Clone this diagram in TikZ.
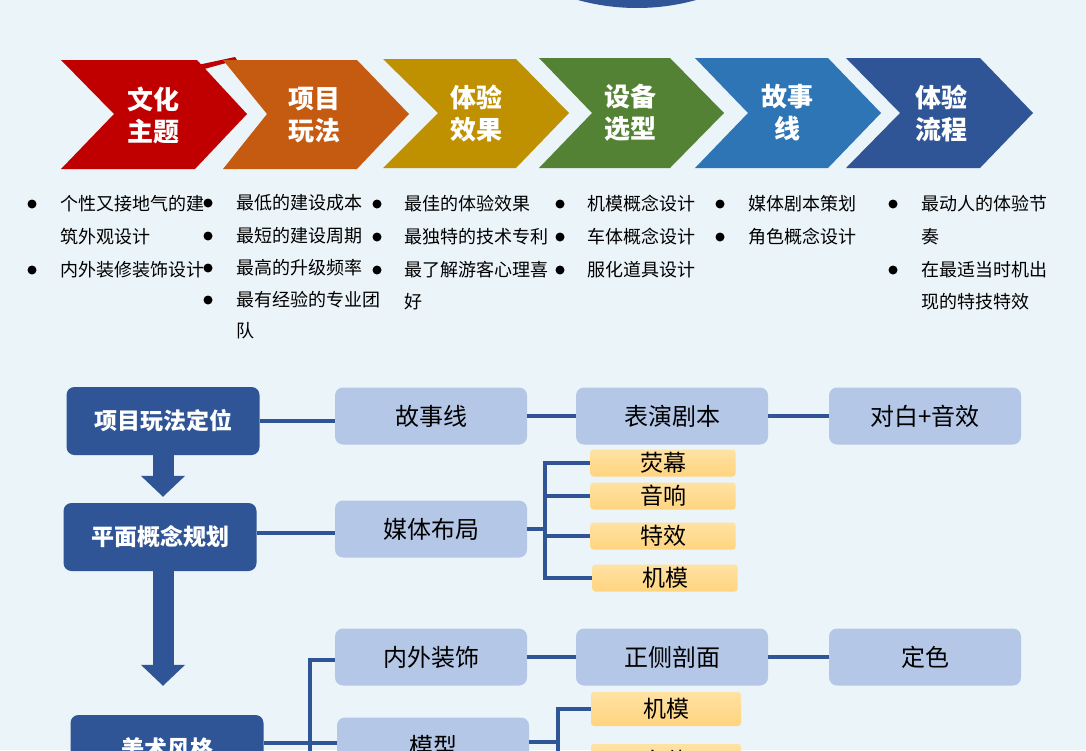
\documentclass[tikz,border=0pt]{standalone}
\usepackage{fontspec}
\newfontfamily\cjk{Noto Sans CJK SC}
\usetikzlibrary{positioning, arrows.meta}
\definecolor{bgcol}{RGB}{235,244,248}
\definecolor{mainblue}{RGB}{47,85,151}
\definecolor{subblue}{RGB}{180,199,231}
\definecolor{leaftop}{RGB}{255,226,163}
\definecolor{leafbot}{RGB}{255,212,126}
\definecolor{chred}{RGB}{192,0,0}
\definecolor{chorange}{RGB}{197,90,17}
\definecolor{chgold}{RGB}{191,144,0}
\definecolor{chgreen}{RGB}{84,130,53}
\definecolor{chblue}{RGB}{46,117,182}
\begin{document}
\begin{tikzpicture}[x=1pt, y=-1pt,
      chevtext/.style={text=white, align=center, inner sep=0pt, font=\cjk\bfseries\fontsize{26}{32}\selectfont},
      item/.style={anchor=west, inner sep=0pt, font=\cjk\fontsize{18}{18}\selectfont},
      mainbox/.style={fill=mainblue, rounded corners=8pt, minimum width=193pt, minimum height=68pt, inner sep=0pt, text=white, font=\cjk\bfseries\fontsize{23}{23}\selectfont},
      subbox/.style={fill=subblue, rounded corners=8pt, minimum width=192pt, minimum height=57pt, inner sep=0pt, font=\cjk\fontsize{24}{24}\selectfont},
      leafbox/.style={top color=leaftop, bottom color=leafbot, rounded corners=3pt, minimum width=145pt, minimum height=27pt, inner sep=0pt, font=\cjk\fontsize{23}{23}\selectfont},
      link/.style={draw=mainblue, line width=4pt},
      blockarrow/.style={draw=mainblue, line width=21pt, -{Triangle[width=43pt, length=21pt]}}]
      \useasboundingbox (0,0) rectangle (1086,750);
      \clip (0,0) rectangle (1086,750);
      \fill[bgcol] (0,0) rectangle (1086,750);
      \fill[mainblue] (637,-213) circle (221pt);

      % chevrons
      \fill[chred] (61,60) -- (197,60) -- (247,114) -- (195,169) -- (61,169) -- (114,114) -- cycle;
      \fill[chred] (193,66) -- (235,57) -- (237,60) -- (197,71) -- cycle;
      \fill[chorange] (223,60) -- (357,60) -- (409,114) -- (357,169) -- (223,169) -- (267,114) -- cycle;
      \fill[chgold] (383,59) -- (516,59) -- (569,113) -- (516,168) -- (383,168) -- (438,113) -- cycle;
      \fill[chgreen] (539,58) -- (670,58) -- (724,113) -- (670,168) -- (539,168) -- (592,113) -- cycle;
      \fill[chblue] (695,58) -- (828,58) -- (881,113) -- (828,168) -- (695,168) -- (748,113) -- cycle;
      \fill[mainblue] (846,58) -- (980,58) -- (1033,113) -- (980,168) -- (846,168) -- (900,113) -- cycle;
      \node[chevtext] (c1) at (153,115) {文化\\主题};
      \node[chevtext] (c2) at (314,115) {项目\\玩法};
      \node[chevtext] (c3) at (476,114) {体验\\效果};
      \node[chevtext] (c4) at (630,113) {设备\\选型};
      \node[chevtext] (c5) at (787,113) {故事\\线};
      \node[chevtext] (c6) at (941,113) {体验\\流程};

      % bullet lists
      \foreach \bx/\by in {32/204, 32/270, 208/203, 208/236, 208/268, 208/300,
          377/204, 377/237, 377/270, 560/204, 560/237, 560/270, 720/204, 720/237, 893/204, 893/270}
        \fill (\bx,\by) circle (4.5pt);
      \node[item] (t1a) at (60,204) {个性又接地气的建};
      \node[item] (t1b) at (60,237) {筑外观设计};
      \node[item] (t1c) at (60,270) {内外装修装饰设计};
      \node[item] (t2a) at (236,203) {最低的建设成本};
      \node[item] (t2b) at (236,236) {最短的建设周期};
      \node[item] (t2c) at (236,268) {最高的升级频率};
      \node[item] (t2d) at (236,300) {最有经验的专业团};
      \node[item] (t2e) at (236,331) {队};
      \node[item] (t3a) at (404,204) {最佳的体验效果};
      \node[item] (t3b) at (404,237) {最独特的技术专利};
      \node[item] (t3c) at (404,270) {最了解游客心理喜};
      \node[item] (t3d) at (404,302) {好};
      \node[item] (t4a) at (587,204) {机模概念设计};
      \node[item] (t4b) at (587,237) {车体概念设计};
      \node[item] (t4c) at (587,270) {服化道具设计};
      \node[item] (t5a) at (748,204) {媒体剧本策划};
      \node[item] (t5b) at (748,237) {角色概念设计};
      \node[item] (t6a) at (921,204) {最动人的体验节};
      \node[item] (t6b) at (921,237) {奏};
      \node[item] (t6c) at (921,270) {在最适当时机出};
      \node[item] (t6d) at (921,302) {现的特技特效};

      % flow
      \node[mainbox] (m1) at (163,421) {项目玩法定位};
      \node[mainbox] (m2) at (160,537) {平面概念规划};
      \node[mainbox] (m3) at (167,749) {美术风格};
      \node[subbox] (s1) at (431,416) {故事线};
      \node[subbox] (s2) at (672,416) {表演剧本};
      \node[subbox] (s3) at (925,416) {对白+音效};
      \node[subbox] (s4) at (431,529) {媒体布局};
      \node[subbox] (s6) at (431,657) {内外装饰};
      \node[subbox] (s7) at (672,657) {正侧剖面};
      \node[subbox] (s8) at (925,657) {定色};
      \node[subbox] (s9) at (433,746) {模型};
      \node[leafbox] (y1) at (663,463) {荧幕};
      \node[leafbox] (y2) at (663,496) {音响};
      \node[leafbox] (y3) at (663,536) {特效};
      \node[leafbox] (y4) at (665,578) {机模};
      \node[leafbox, minimum width=150pt, minimum height=34pt] (y5) at (666,709) {机模};
      \node[leafbox, minimum width=150pt, minimum height=34pt] (y6) at (666,761) {车体};
      \coordinate (b1) at (545,535);
      \coordinate (b2) at (310,770);
      \coordinate (b3) at (558,770);

      \draw[blockarrow, shorten >=6pt] (m1.south) -- (m1.south |- m2.north);
      \draw[blockarrow, shorten >=29pt] (m1.south |- m2.south) -- (m1.south |- m3.north);
      \draw[link] (m1.east) -- (m1.east -| s1.west);
      \draw[link] (s1.east) -- (s2.west);\draw[link] (s2.east) -- (s3.west);
      \draw[link] ([yshift=4pt]m2.east) -- ([yshift=4pt]m2.east -| s4.west);
      \draw[link] (s4.east) -- (s4.east -| b1);
      \draw[link] (y1.west) -| (b1) |- (y4.west);
      \draw[link] (y2.west -| b1) -- (y2.west);\draw[link] (y3.west -| b1) -- (y3.west);
      \draw[link] ([yshift=-3pt]s6.west) -| (b2);
      \draw[link] ([yshift=6pt]m3.east) -- ([yshift=6pt]m3.east -| s9.west);
      \draw[link] (s6.east) -- (s7.west);\draw[link] (s7.east) -- (s8.west);
      \draw[link] (y5.west) -| (b3);
      \draw[link] ([yshift=4pt]s9.east) -- ([yshift=4pt]s9.east -| b3);
    \end{tikzpicture}
\end{document}
